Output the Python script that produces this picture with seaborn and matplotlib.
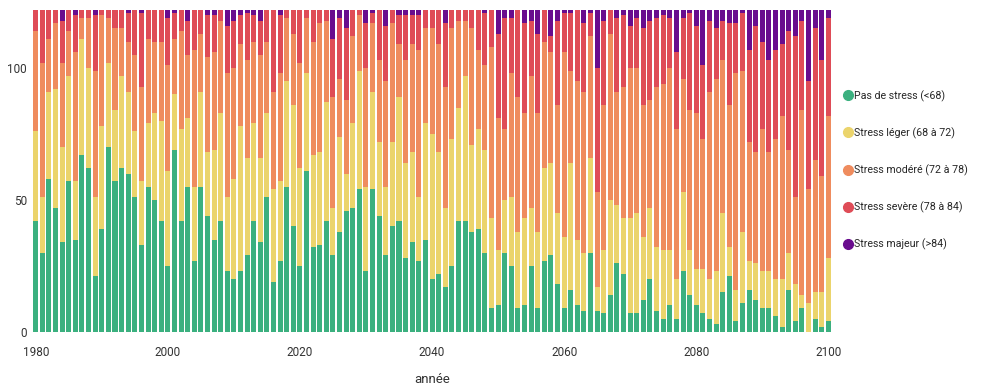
import numpy as np
import pandas as pd
import seaborn as sns
import matplotlib.pyplot as plt
from matplotlib.lines import Line2D

# jours d'été par classe de stress (lecture approximative du graphique)
years = list(range(1980, 2101))

pas_de_stress = [42, 30, 58, 47, 34, 57, 35, 67, 62, 21, 39, 70, 57, 62, 60, 51, 33, 55, 50, 42,
                 25, 69, 42, 55, 27, 55, 44, 35, 42, 23, 20, 23, 29, 42, 34, 51, 19, 27, 55, 40,
                 25, 61, 32, 33, 42, 29, 38, 46, 47, 54, 23, 54, 44, 29, 40, 42, 28, 34, 27, 35,
                 20, 22, 17, 25, 42, 42, 38, 39, 30, 9, 10, 30, 25, 9, 10, 25, 9, 27, 29, 18,
                 9, 16, 10, 8, 30, 8, 7, 14, 26, 22, 7, 7, 12, 20, 8, 5, 10, 5, 23, 14,
                 10, 7, 5, 3, 15, 21, 4, 11, 16, 12, 9, 9, 6, 2, 16, 4, 9, 0, 5, 2, 4]
stress_leger = [34, 21, 33, 45, 36, 40, 22, 44, 38, 30, 39, 32, 27, 35, 31, 25, 24, 24, 33, 38,
                36, 21, 35, 26, 28, 36, 24, 34, 41, 28, 38, 55, 37, 37, 32, 32, 35, 30, 40, 46,
                37, 37, 35, 35, 45, 18, 36, 14, 32, 45, 32, 37, 28, 26, 32, 47, 36, 34, 24, 44,
                55, 46, 30, 48, 43, 55, 33, 38, 39, 34, 21, 20, 26, 29, 33, 22, 29, 35, 35, 27,
                27, 48, 25, 22, 36, 9, 24, 36, 22, 21, 36, 38, 24, 27, 24, 26, 21, 15, 30, 17,
                14, 17, 15, 20, 30, 11, 12, 27, 11, 14, 14, 14, 14, 18, 14, 14, 5, 11, 10, 13, 24]
stress_modere = [38, 51, 20, 25, 32, 17, 49, 8, 19, 48, 42, 17, 31, 18, 19, 29, 36, 32, 27, 30,
                 40, 21, 37, 24, 52, 22, 36, 37, 35, 47, 42, 31, 37, 31, 39, 27, 37, 41, 24, 27,
                 40, 21, 43, 49, 31, 42, 22, 28, 33, 21, 45, 26, 31, 40, 45, 20, 39, 41, 56, 36,
                 40, 41, 46, 42, 33, 21, 44, 30, 32, 65, 50, 27, 47, 51, 40, 50, 45, 48, 42, 41,
                 70, 35, 60, 61, 46, 36, 55, 63, 43, 50, 57, 55, 50, 41, 61, 63, 69, 57, 43, 53,
                 59, 49, 71, 73, 58, 54, 82, 61, 45, 42, 54, 45, 53, 62, 39, 33, 70, 43, 50, 44, 54]
stress_severe = [8, 20, 11, 5, 16, 8, 14, 3, 3, 21, 2, 3, 7, 7, 11, 17, 28, 11, 12, 12,
                 18, 10, 8, 13, 15, 9, 16, 14, 4, 18, 18, 11, 18, 10, 13, 12, 31, 22, 3, 9,
                 20, 3, 12, 5, 4, 22, 23, 27, 10, 2, 17, 4, 19, 21, 5, 11, 17, 11, 13, 7,
                 7, 13, 24, 7, 4, 4, 7, 15, 20, 14, 32, 42, 21, 33, 34, 21, 30, 12, 6, 32,
                 15, 22, 27, 26, 9, 47, 32, 9, 28, 27, 16, 19, 29, 30, 26, 26, 19, 29, 23, 37,
                 33, 28, 27, 19, 15, 31, 19, 22, 35, 48, 33, 35, 34, 27, 45, 61, 34, 41, 50, 44, 37]
stress_majeur = [0, 0, 0, 0, 4, 0, 2, 0, 0, 2, 0, 0, 0, 0, 1, 0, 1, 0, 0, 0,
                 3, 1, 0, 4, 0, 0, 2, 2, 0, 6, 4, 2, 1, 2, 4, 0, 0, 2, 0, 0,
                 0, 0, 0, 0, 0, 11, 3, 7, 0, 0, 5, 1, 0, 6, 0, 2, 2, 2, 2, 0,
                 0, 0, 5, 0, 0, 0, 0, 0, 1, 0, 9, 3, 3, 0, 5, 4, 9, 0, 10, 4,
                 1, 1, 0, 5, 1, 22, 4, 0, 3, 2, 6, 3, 7, 4, 3, 2, 3, 16, 3, 1,
                 6, 21, 4, 7, 4, 5, 5, 1, 15, 6, 12, 19, 15, 13, 8, 10, 4, 27, 7, 19, 3]

labels = ["Pas de stress (<68)", "Stress léger (68 à 72)", "Stress modéré (72 à 78)",
          "Stress sevère (78 à 84)", "Stress majeur (>84)"]
colors = ["#3bb07f", "#ebd46c", "#ef8c5e", "#df4c57", "#690c8e"]

df = pd.DataFrame({
    "annee": years,
    labels[0]: pas_de_stress,
    labels[1]: stress_leger,
    labels[2]: stress_modere,
    labels[3]: stress_severe,
    labels[4]: stress_majeur,
})
cum = df[labels].cumsum(axis=1)
cum["annee"] = df["annee"].astype(str)

sns.set_style("white")
plt.rcParams["font.family"] = ["Roboto", "DejaVu Sans"]

fig = plt.figure(figsize=(9.83, 3.85), dpi=100)
ax = fig.add_axes([0.033, 0.138, 0.813, 0.836])

# on dessine du haut vers le bas pour empiler
for lab, col in zip(labels[::-1], colors[::-1]):
    sns.barplot(data=cum, x="annee", y=lab, color=col, saturation=1,
                width=0.76, ax=ax, errorbar=None, linewidth=0)

ax.set_xlim(-0.5, len(years) - 0.5)
ax.set_ylim(0, 122)
ax.set_xticks(range(0, len(years), 20))
ax.set_xticklabels([str(y) for y in years[::20]])
ax.set_yticks([0, 50, 100])
ax.tick_params(axis="both", length=0, labelsize=8.5, colors="#333333")
ax.tick_params(axis="x", pad=10)
ax.tick_params(axis="y", pad=4)
ax.set_xlabel("année", fontsize=9.5, color="#333333", labelpad=10)
ax.set_ylabel("")
sns.despine(ax=ax, left=True, bottom=True)

handles = [Line2D([0], [0], marker="o", linestyle="", markersize=7,
                  markerfacecolor=c, markeredgecolor=c) for c in colors]
fig.legend(handles, labels, loc="center left", bbox_to_anchor=(0.853, 0.558),
           frameon=False, fontsize=7.7, labelspacing=2.4, handletextpad=0.05,
           handlelength=1.0, borderaxespad=0)

fig.savefig("out.png", dpi=100)
